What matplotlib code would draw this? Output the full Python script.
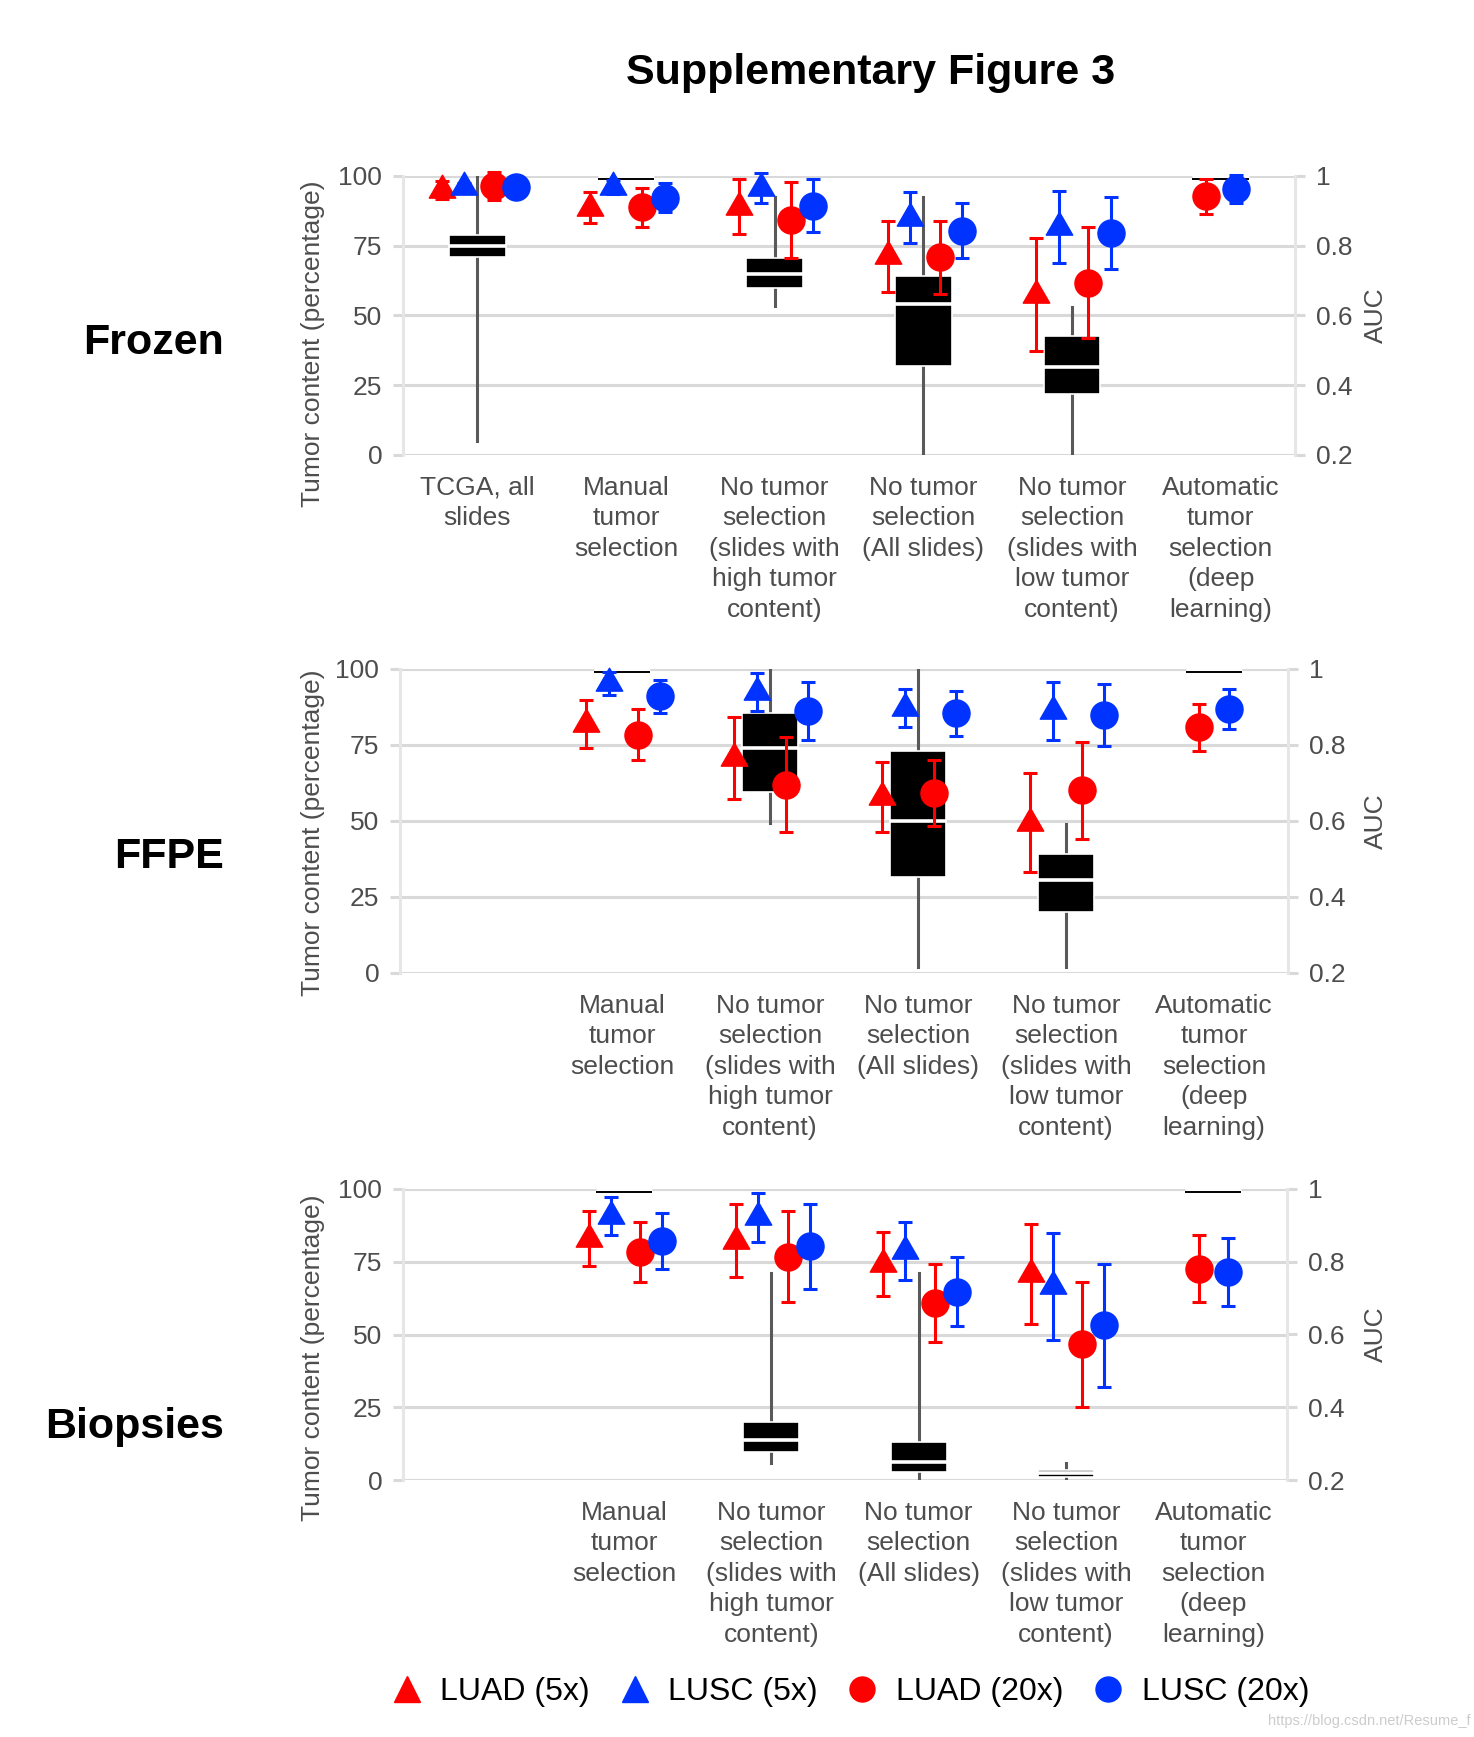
import matplotlib
matplotlib.use('Agg')
import numpy as np
import matplotlib.pyplot as plt
from matplotlib.lines import Line2D
from matplotlib.patches import Rectangle
from matplotlib.path import Path

plt.rcParams['font.family'] = ['Liberation Sans', 'DejaVu Sans']

W, H = 1474, 1737

series = ['LUAD (5x)', 'LUSC (5x)', 'LUAD (20x)', 'LUSC (20x)']
series_colors = ['#ff0000', '#0033ff', '#ff0000', '#0033ff']
series_is_tri = [True, True, False, False]

frozen_methods = ["TCGA, all\nslides",
                  "Manual\ntumor\nselection",
                  "No tumor\nselection\n(slides with\nhigh tumor\ncontent)",
                  "No tumor\nselection\n(All slides)",
                  "No tumor\nselection\n(slides with\nlow tumor\ncontent)",
                  "Automatic\ntumor\nselection\n(deep\nlearning)"]
other_methods = [""] + frozen_methods[1:]

# tumor content boxplots (percent): whisker low, q1, median, q3, whisker high
frozen_box = [(5, 71, 75, 79, 100), (99, 99, 99, 99, 99), (53.5, 60, 65, 70.5, 92.5),
              (0, 32, 54, 64, 92.5), (0, 22, 31.5, 42.5, 53), (99, 99, 99, 99, 99)]
ffpe_box = [None, (99, 99, 99, 99, 99), (49.5, 59.5, 74, 85.5, 100),
            (2, 31.5, 50, 73, 100), (2, 20, 30.5, 39, 49), (99, 99, 99, 99, 99)]
biopsy_box = [None, (99, 99, 99, 99, 99), (6, 9.7, 13.8, 19.8, 71),
              (0.7, 2.9, 6.3, 13, 71), (0.4, 1.0, 2.3, 3.6, 6), (99, 99, 99, 99, 99)]

# AUC means and CI half widths per series (order of methods as above)
frozen_auc = {
    'LUAD (5x)':  [0.960, 0.909, 0.912, 0.770, 0.659, None],
    'LUSC (5x)':  [0.969, 0.968, 0.965, 0.881, 0.854, None],
    'LUAD (20x)': [0.972, 0.910, 0.874, 0.767, 0.694, 0.942],
    'LUSC (20x)': [0.969, 0.938, 0.915, 0.843, 0.837, 0.962],
}
frozen_ci = {
    'LUAD (5x)':  [0.025, 0.044, 0.079, 0.102, 0.162, None],
    'LUSC (5x)':  [0.010, 0.020, 0.043, 0.072, 0.104, None],
    'LUAD (20x)': [0.040, 0.057, 0.110, 0.105, 0.159, 0.050],
    'LUSC (20x)': [0.010, 0.042, 0.076, 0.079, 0.104, 0.040],
}
ffpe_auc = {
    'LUAD (5x)':  [None, 0.855, 0.765, 0.663, 0.596, None],
    'LUSC (5x)':  [None, 0.962, 0.940, 0.897, 0.890, None],
    'LUAD (20x)': [None, 0.827, 0.695, 0.674, 0.681, 0.847],
    'LUSC (20x)': [None, 0.928, 0.890, 0.883, 0.879, 0.895],
}
ffpe_ci = {
    'LUAD (5x)':  [None, 0.064, 0.108, 0.093, 0.130, None],
    'LUSC (5x)':  [None, 0.030, 0.050, 0.050, 0.076, None],
    'LUAD (20x)': [None, 0.067, 0.125, 0.086, 0.128, 0.062],
    'LUSC (20x)': [None, 0.043, 0.076, 0.058, 0.082, 0.052],
}
biopsy_auc = {
    'LUAD (5x)':  [None, 0.863, 0.858, 0.793, 0.766, None],
    'LUSC (5x)':  [None, 0.925, 0.922, 0.830, 0.732, None],
    'LUAD (20x)': [None, 0.827, 0.814, 0.686, 0.573, 0.781],
    'LUSC (20x)': [None, 0.857, 0.842, 0.717, 0.625, 0.771],
}
biopsy_ci = {
    'LUAD (5x)':  [None, 0.076, 0.101, 0.088, 0.138, None],
    'LUSC (5x)':  [None, 0.052, 0.067, 0.079, 0.147, None],
    'LUAD (20x)': [None, 0.083, 0.125, 0.107, 0.171, 0.092],
    'LUSC (20x)': [None, 0.077, 0.117, 0.095, 0.168, 0.094],
}

# triangle with its centroid on the data point (like R pch 17)
tri = Path([(0, 1), (-0.866, -0.5), (0.866, -0.5), (0, 1)],
           [Path.MOVETO, Path.LINETO, Path.LINETO, Path.CLOSEPOLY])

dodge = {4: [-0.24, -0.09, 0.11, 0.26], 2: [-0.1, 0.1]}

grid_c = '#d9d9d9'
txt_c = '#4d4d4d'

# pixel layout: axes (left, top, right, bottom), row label y, y label centre
panels = [
    ('Frozen', frozen_methods, frozen_box, frozen_auc, frozen_ci, (403, 176, 1295, 455), 343, 344),
    ('FFPE', other_methods, ffpe_box, ffpe_auc, ffpe_ci, (400, 669, 1288, 973), 857, 833),
    ('Biopsies', other_methods, biopsy_box, biopsy_auc, biopsy_ci, (403, 1189, 1287, 1480), 1427, 1358),
]

fig = plt.figure(figsize=(W / 100, H / 100), dpi=100)

fig.text(871 / W, 1 - 73 / H, 'Supplementary Figure 3', ha='center', va='center',
         fontsize=31, fontweight='bold')

for name, labels, boxes, auc, ci, (l, tp, r, b), row_y, ylab_y in panels:
    ax = fig.add_axes([l / W, 1 - b / H, (r - l) / W, (b - tp) / H])
    ax.set_xlim(0.5, 6.5)
    ax.set_ylim(0, 100)
    ax.set_yticks([0, 25, 50, 75, 100])
    ax.yaxis.grid(True, color=grid_c, lw=2.2)
    ax.set_axisbelow(True)
    for s in ['top', 'right', 'bottom']:
        ax.spines[s].set_visible(False)
    ax.spines['left'].set_color('#e6e6e6')
    ax.spines['left'].set_linewidth(2.2)
    ax.tick_params(axis='y', length=7, width=2.2, color=grid_c, labelsize=19,
                   labelcolor=txt_c, pad=8)
    ax.tick_params(axis='x', length=0, labelsize=19, labelcolor=txt_c, pad=15)
    ax.set_xticks(range(1, 7))
    ax.set_xticklabels(labels, linespacing=1.34)

    # boxplots of tumor content
    w = 0.38
    for i, bx in enumerate(boxes):
        if bx is None:
            continue
        x = i + 1
        lo, q1, med, q3, hi = bx
        if q1 == q3:
            ax.plot([x - w / 2, x + w / 2], [med, med], color='white', lw=5,
                    solid_capstyle='butt', zorder=3)
            ax.plot([x - w / 2, x + w / 2], [med, med], color='black', lw=1.4,
                    solid_capstyle='butt', zorder=4)
            continue
        ax.plot([x, x], [lo, hi], color='#595959', lw=2.2, zorder=2)
        ax.add_patch(Rectangle((x - w / 2, q1), w, q3 - q1, facecolor='black',
                               edgecolor='white', lw=1.2, zorder=3))
        ax.plot([x - w / 2, x + w / 2], [med, med], color='white', lw=2.6,
                solid_capstyle='butt', zorder=4)

    fig.text(313 / W, 1 - ylab_y / H, 'Tumor content (percentage)', rotation=90,
             ha='center', va='center', fontsize=19, color=txt_c)
    fig.text(224 / W, 1 - row_y / H, name, ha='right', va='center',
             fontsize=31, fontweight='bold')

    # AUC on the secondary axis
    ax2 = ax.twinx()
    ax2.set_ylim(0.2, 1.0)
    ax2.set_yticks([0.2, 0.4, 0.6, 0.8, 1.0])
    ax2.set_yticklabels(['0.2', '0.4', '0.6', '0.8', '1'])
    for s in ['top', 'left', 'bottom']:
        ax2.spines[s].set_visible(False)
    ax2.spines['right'].set_color('#e6e6e6')
    ax2.spines['right'].set_linewidth(2.2)
    ax2.tick_params(axis='y', length=7, width=2.2, color=grid_c, labelsize=19,
                    labelcolor=txt_c, pad=8)
    ax2.set_ylabel('AUC', fontsize=19, color=txt_c, va='center')
    ax2.yaxis.set_label_coords(1 + (1376 - r) / (r - l), 0.5)

    for i in range(6):
        present = [s for s in series if auc[s][i] is not None]
        if not present:
            continue
        offs = dodge[len(present)]
        for k, s in enumerate(present):
            j = series.index(s)
            x = i + 1 + offs[k]
            c = series_colors[j]
            ax2.errorbar(x, auc[s][i], yerr=ci[s][i], fmt='none', ecolor=c,
                         elinewidth=2.2, capsize=4.8, capthick=2.2, zorder=5 + j,
                         clip_on=False)
            if series_is_tri[j]:
                ax2.plot(x, auc[s][i], marker=tri, ms=22, color=c, ls='none',
                         zorder=5 + j, clip_on=False)
            else:
                ax2.plot(x, auc[s][i], marker='o', ms=19.5, color=c, ls='none',
                         zorder=5 + j, clip_on=False)

handles = []
for j, s in enumerate(series):
    if series_is_tri[j]:
        handles.append(Line2D([], [], marker='^', ms=19, color=series_colors[j], ls='none'))
    else:
        handles.append(Line2D([], [], marker='o', ms=18, color=series_colors[j], ls='none'))
fig.legend(handles, series, loc='center', bbox_to_anchor=(850 / W, 1 - 1692 / H),
           ncol=4, frameon=False, fontsize=23, handlelength=1.0, handletextpad=0.55,
           columnspacing=0.9)

fig.text(0.998, 0.005, 'https://blog.csdn.net/Resume_f', ha='right', va='bottom',
         fontsize=10.5, color='#cccccc')

fig.savefig('out.png', dpi=100)
